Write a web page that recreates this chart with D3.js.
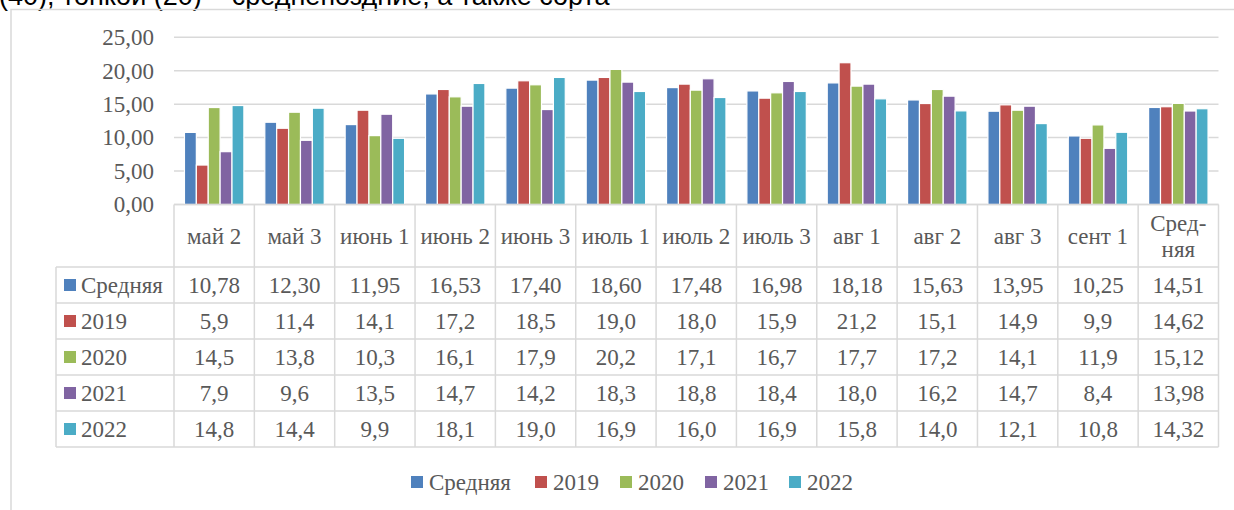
<!DOCTYPE html>
<html><head><meta charset="utf-8">
<script src="https://cdn.jsdelivr.net/npm/d3@7"></script>
<style>body{margin:0;background:#fff}svg{display:block}
.sf{font-family:"Liberation Serif","Times New Roman",serif;font-size:23px;fill:#595959}
.ss{font-family:"Liberation Sans",Arial,sans-serif}
</style>
</head><body>
<svg id="c" width="1234" height="510"></svg>
<script>
const categories = ["май 2","май 3","июнь 1","июнь 2","июнь 3","июль 1","июль 2","июль 3","авг 1","авг 2","авг 3","сент 1","Сред-\nняя"];
const seriesNames = ["Средняя","2019","2020","2021","2022"];
const sAvg  = [10.78,12.30,11.95,16.53,17.40,18.60,17.48,16.98,18.18,15.63,13.95,10.25,14.51];
const s2019 = [5.9,11.4,14.1,17.2,18.5,19.0,18.0,15.9,21.2,15.1,14.9,9.9,14.62];
const s2020 = [14.5,13.8,10.3,16.1,17.9,20.2,17.1,16.7,17.7,17.2,14.1,11.9,15.12];
const s2021 = [7.9,9.6,13.5,14.7,14.2,18.3,18.8,18.4,18.0,16.2,14.7,8.4,13.98];
const s2022 = [14.8,14.4,9.9,18.1,19.0,16.9,16.0,16.9,15.8,14.0,12.1,10.8,14.32];
const yTicks = [0,5,10,15,20,25];
const colors = ["#4F81BD","#C0504D","#9BBB59","#8064A2","#4BACC6"];
const series = [sAvg,s2019,s2020,s2021,s2022];

const svg = d3.select("#c");
const grid = "#d9d9d9";
const bl = 7.8;

// clipped heading text from the document
svg.append("text").attr("class","ss").attr("x",-1).attr("y",5)
  .style("font-size","27px").style("fill","#000")
  .text("(40), тонкой (20) – среднепоздние, а также сорта");

// chart frame
svg.append("path").attr("d","M11,510 V9.5 H1234").attr("fill","none").attr("stroke",grid).attr("stroke-width",1.5);

const x0 = 174, x1 = 1218.5;
const x = d3.scaleBand().domain(d3.range(categories.length)).range([x0,x1]).paddingInner(0).paddingOuter(0);
const y = d3.scaleLinear().domain([0,25]).range([204.5,37.3]);

// gridlines
svg.append("g").selectAll("line").data(yTicks).join("line")
  .attr("x1",x0).attr("x2",x1).attr("y1",d=>y(d)).attr("y2",d=>y(d))
  .attr("stroke",grid).attr("stroke-width",1.5);

// y labels
const fmt = (v,dec)=>v.toFixed(dec).replace(".",",");
svg.append("g").selectAll("text").data(yTicks).join("text").attr("class","sf")
  .attr("x",154).attr("y",d=>y(d)+bl).attr("text-anchor","end")
  .text(d=>fmt(d,2));

// bars
const inner = d3.scaleBand().domain(d3.range(series.length)).range([0,x.bandwidth()]).paddingOuter(0.88).paddingInner(0);
series.forEach((s,si)=>{
  svg.append("g").selectAll("rect").data(s).join("rect")
    .attr("x",(d,i)=>x(i)+inner(si)).attr("width",inner.bandwidth())
    .attr("y",d=>y(d)).attr("height",d=>y(0)-y(d))
    .attr("fill",colors[si]).attr("stroke","#fff").attr("stroke-width",1.2);
});

// table
const hdrTop = 204.5, hdrBot = 267, rowH = 36, legL = 56;
const rowsBot = hdrBot + rowH*series.length;
const tg = svg.append("g");
const line = (a,b,c,d)=>tg.append("line").attr("x1",a).attr("y1",b).attr("x2",c).attr("y2",d).attr("stroke",grid).attr("stroke-width",1.5);
d3.range(categories.length+1).forEach(i=>{
  const xx = i<categories.length ? x(i) : x1;
  line(xx,hdrTop,xx,rowsBot);
});
line(legL,hdrBot,legL,rowsBot);
line(x0,hdrTop,x1,hdrTop);
d3.range(series.length+1).forEach(r=>line(legL,hdrBot+r*rowH,x1,hdrBot+r*rowH));

// header labels
categories.forEach((c,i)=>{
  const parts = c.split("\n");
  const cx = x(i)+x.bandwidth()/2, cy=(hdrTop+hdrBot)/2;
  const t = tg.append("text").attr("class","sf").attr("text-anchor","middle");
  parts.forEach((p,k)=>{
    t.append("tspan").attr("x",cx).attr("y",cy+bl+(k-(parts.length-1)/2)*26).text(p);
  });
});

// rows
series.forEach((s,si)=>{
  const cy = hdrBot + si*rowH + rowH/2;
  tg.append("rect").attr("x",64).attr("y",cy-6).attr("width",12).attr("height",12).attr("fill",colors[si]);
  tg.append("text").attr("class","sf").attr("x",81).attr("y",cy+bl).text(seriesNames[si]);
  tg.append("g").selectAll("text").data(s).join("text").attr("class","sf")
    .attr("x",(d,i)=>x(i)+x.bandwidth()/2).attr("y",cy+bl).attr("text-anchor","middle")
    .text((d,i)=>fmt(d,(si===0||i===categories.length-1)?2:1));
});

// bottom legend
const legX = [411,535,620,705,789];
const lg = svg.append("g");
seriesNames.forEach((n,i)=>{
  lg.append("rect").attr("x",legX[i]).attr("y",476).attr("width",12).attr("height",12).attr("fill",colors[i]);
  lg.append("text").attr("class","sf").attr("x",legX[i]+18).attr("y",489.5).text(n);
});
</script>
</body></html>
